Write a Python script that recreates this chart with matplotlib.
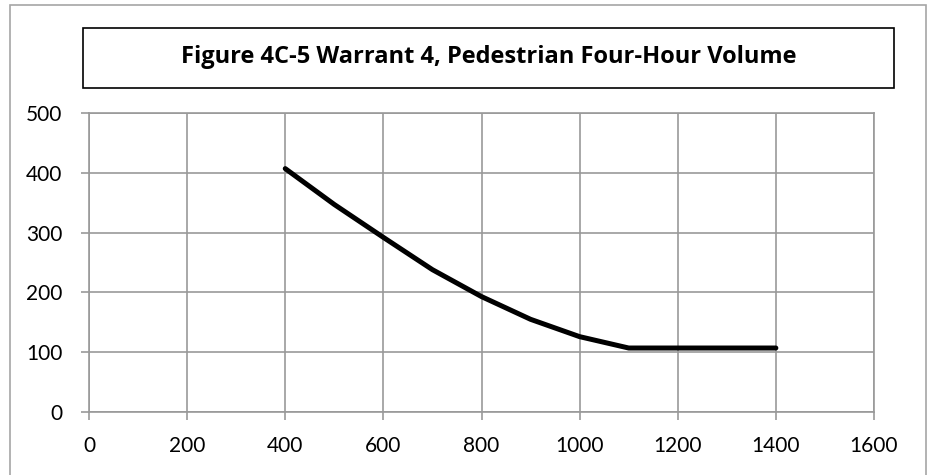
import matplotlib
matplotlib.use("Agg")
import matplotlib.pyplot as plt
from matplotlib.patches import Rectangle

plt.rcParams['font.family'] = ['Lato', 'DejaVu Sans']

title = "Figure 4C-5 Warrant 4, Pedestrian Four-Hour Volume"
vehicles = [400, 500, 600, 700, 800, 900, 1000, 1100, 1200, 1300, 1400]
pedestrians = [407, 347, 292, 238, 193, 155, 126, 107, 107, 107, 107]
x_ticks = [0, 200, 400, 600, 800, 1000, 1200, 1400, 1600]
y_ticks = [0, 100, 200, 300, 400, 500]

W, H = 928, 475
fig = plt.figure(figsize=(W / 100, H / 100), dpi=100)

# outer chart border
fig.patches.append(Rectangle((10 / W, -0.02), (926 - 10) / W, 1 - 5 / H + 0.02,
                             transform=fig.transFigure, fill=False,
                             edgecolor='#a6a6a6', linewidth=1.2))
# title box
fig.patches.append(Rectangle((83 / W, 1 - 88 / H), (894 - 83) / W, (88 - 28) / H,
                             transform=fig.transFigure, fill=False,
                             edgecolor='black', linewidth=1.2))
fig.text((83 + 894) / 2 / W, 1 - 57 / H, title, ha='center', va='center',
         fontsize=17, fontweight='bold', family=['Open Sans', 'DejaVu Sans'])

ax = fig.add_axes([89 / W, 1 - 412 / H, (874 - 89) / W, (412 - 113) / H])
ax.plot(vehicles, pedestrians, color='black', linewidth=3.6,
        solid_capstyle='round', solid_joinstyle='round', zorder=3)
ax.set_xlim(0, 1600)
ax.set_ylim(0, 500)
ax.set_xticks(x_ticks)
ax.set_yticks(y_ticks)
ax.grid(True, color='#999999', linewidth=1.2)
for s in ax.spines.values():
    s.set_color('#999999')
    s.set_linewidth(1.2)
ax.tick_params(axis='both', colors='#999999', length=6, width=1.2,
               labelcolor='black', labelsize=15)
ax.tick_params(axis='x', pad=11)
ax.tick_params(axis='y', pad=13)
ax.set_axisbelow(True)

fig.savefig("out.png", dpi=100)
